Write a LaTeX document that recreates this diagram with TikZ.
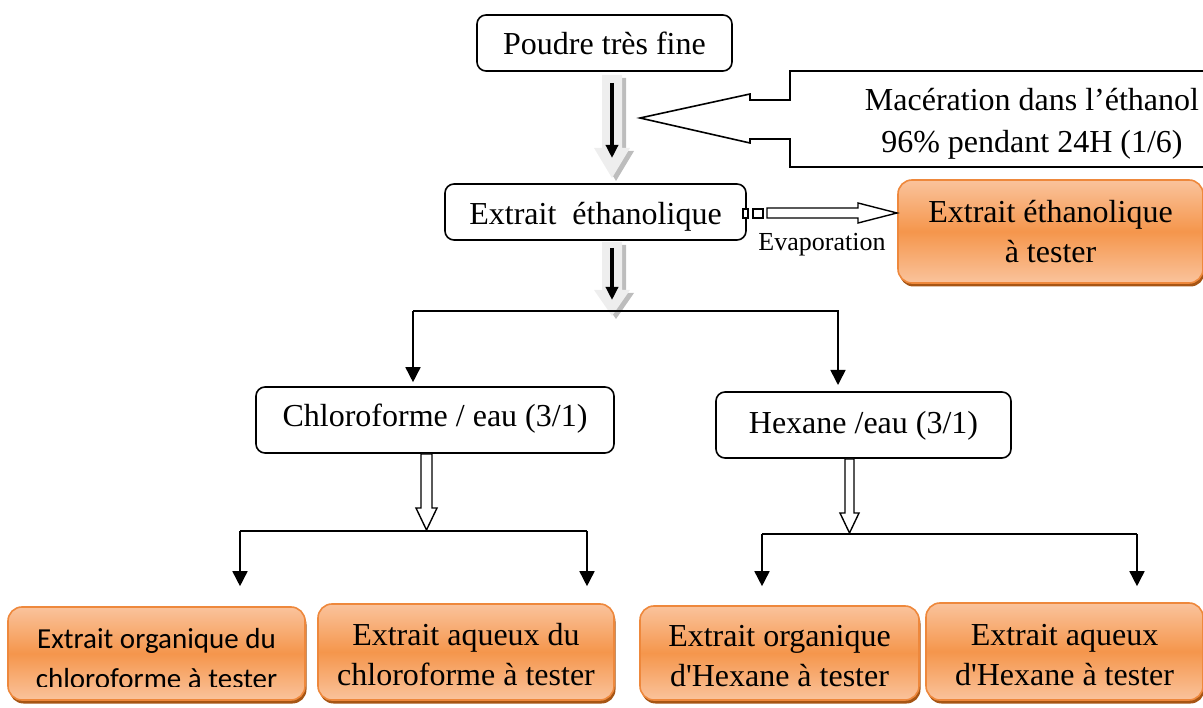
\documentclass[tikz,border=0pt]{standalone}
\usepackage{fontspec}
\setmainfont{Liberation Serif}[Ligatures=TeXOff]
\newfontfamily\calibrifont{Carlito}
\usetikzlibrary{arrows.meta,shadows}
\definecolor{oBorder}{HTML}{EE883C}
\definecolor{oLight}{HTML}{FAC39C}
\definecolor{oMid}{HTML}{F5964C}
\definecolor{oShadow}{HTML}{A65514}
\definecolor{gLight}{HTML}{EEEEEE}
\definecolor{gDark}{HTML}{BDBDBD}
\tikzset{
  stepbox/.style={draw, line width=1.6pt, rounded corners=9pt, fill=white, inner sep=0pt,
    font=\fontsize{32}{40}\selectfont, text depth=0pt},
  orangebox/.style={draw=oBorder, line width=1.6pt, rounded corners=14pt,
    top color=oLight, bottom color=oLight, middle color=oMid,
    drop shadow={shadow xshift=1.5pt, shadow yshift=-3.5pt, fill=oShadow, opacity=1},
    inner sep=0pt, align=center, font=\fontsize{32}{40}\selectfont},
  plainline/.style={line width=1.6pt},
  arr/.style={line width=1.6pt, -{Triangle[length=15pt,width=15pt]}},
  hollow/.style={draw, line width=1.4pt, fill=white, line join=miter},
  inner/.style={line width=3.5pt, -{Triangle[length=13pt,width=12pt]}},
}
\newcommand\grayarrow[4]{% x, ytop, yhead, ytip
  \fill[gDark] ({#1-6},{#2+3}) -- ({#1+14},{#2+3}) -- ({#1+14},{#3+3}) -- ({#1+22},{#3+3}) -- ({#1+4},{#4+3}) -- ({#1-14},{#3+3}) -- ({#1-6},{#3+3}) -- cycle;
  \fill[gLight] ({#1-10},#2) -- ({#1+10},#2) -- ({#1+10},#3) -- ({#1+18},#3) -- (#1,#4) -- ({#1-18},#3) -- ({#1-10},#3) -- cycle;
}
\newcommand\firststrut{\rule{0pt}{28pt}}
\begin{document}
\begin{tikzpicture}[x=1pt,y=-1pt]
\useasboundingbox (0,0) rectangle (1203,708);

% callout
\draw[line width=1.6pt, fill=white, line join=miter] (1215,71) -- (790,71) -- (790,100) -- (750,100) -- (750,94) -- (640,118) -- (750,143) -- (750,139) -- (790,139) -- (790,167) -- (1215,167);
\node[font=\fontsize{32}{42}\selectfont, align=center] (macer) at (1032,123.5) {Macération dans l’éthanol\\96\% pendant 24H (1/6)};

% white boxes
\node[stepbox, minimum width=255pt, minimum height=56pt, text height=24pt] (poudre) at (604.5,43) {Poudre très fine};
\node[stepbox, minimum width=301pt, minimum height=56pt, text height=26pt] (ethanol) at (595.5,212) {Extrait\ \ éthanolique};
\node[stepbox, minimum width=358pt, minimum height=66pt, text height=14pt] (chloro) at (435,420) {Chloroforme / eau (3/1)};
\node[stepbox, minimum width=295pt, minimum height=66pt, text height=18pt] (hexane) at (863.5,425) {Hexane /eau (3/1)};

% gray arrows
\grayarrow{612}{75}{148}{178}
\draw[inner] (612,83) -- (612,158);
\grayarrow{612}{242}{290}{316}
\draw[inner] (612,248) -- (612,300);

% orange boxes
\node[orangebox, minimum width=305pt, minimum height=103pt] (ethtest) at (1050.5,231.5) {Extrait éthanolique\\à tester};
\node[orangebox, minimum width=297pt, minimum height=93pt] (b1) at (156.5,653.5) {};
\begin{scope}
  \clip (10,610) rectangle (303,686);
  \node[font=\calibrifont\fontsize{29}{36}\selectfont, anchor=base, inner sep=0pt] (b1a) at (156.5,648) {Extrait organique du};
  \node[font=\calibrifont\fontsize{29}{36}\selectfont, anchor=base, inner sep=0pt] (b1b) at (156.5,688) {chloroforme à tester};
\end{scope}
\node[orangebox, minimum width=296pt, minimum height=96pt] (b2) at (466,652) {\firststrut Extrait aqueux du\\chloroforme à tester};
\node[orangebox, minimum width=279pt, minimum height=94pt] (b3) at (779.5,653) {\firststrut Extrait organique\\d'Hexane à tester};
\node[orangebox, minimum width=277pt, minimum height=97pt] (b4) at (1064.5,651.5) {\firststrut Extrait aqueux\\d'Hexane à tester};

% evaporation
\draw[line width=1.2pt, fill=white] (743,209) rectangle (748,218);
\draw[line width=1.2pt, fill=white] (753,209) rectangle (763,218);
\draw[hollow] (767,208) -- (858,208) -- (858,203) -- (897,213) -- (858,223) -- (858,218) -- (767,218) -- cycle;
\node[font=\fontsize{26}{30}\selectfont, anchor=base, inner sep=0pt] (evap) at (822,251) {Evaporation};

% first split
\coordinate (s1L) at (413,311);
\coordinate (s1R) at (839,311);
\draw[plainline] (s1L) -- (s1R);
\draw[arr, shorten >=4pt] (s1L) -- (s1L |- chloro.north);
\draw[arr, shorten >=7pt] (838,311) -- (838,392);

% hollow arrows
\draw[hollow] (421,454) -- (432,454) -- (432,508) -- (437,508) -- (426.5,530) -- (416,508) -- (421,508) -- cycle;
\draw[hollow] (845,459) -- (854,459) -- (854,513) -- (859,513) -- (849.5,533) -- (840,513) -- (845,513) -- cycle;

% second splits
\coordinate (s2L) at (240,531);
\coordinate (s2R) at (587,531);
\draw[plainline] (s2L) -- (s2R);
\draw[arr, shorten >=20pt] (s2L) -- (s2L |- b1.north);
\draw[arr, shorten >=17pt] (s2R) -- (s2R |- b2.north);
\coordinate (s3L) at (762,534);
\coordinate (s3R) at (1137,534);
\draw[plainline] (s3L) -- (s3R);
\draw[arr, shorten >=19pt] (s3L) -- (s3L |- b3.north);
\draw[arr, shorten >=16pt] (s3R) -- (s3R |- b4.north);
\end{tikzpicture}
\end{document}
